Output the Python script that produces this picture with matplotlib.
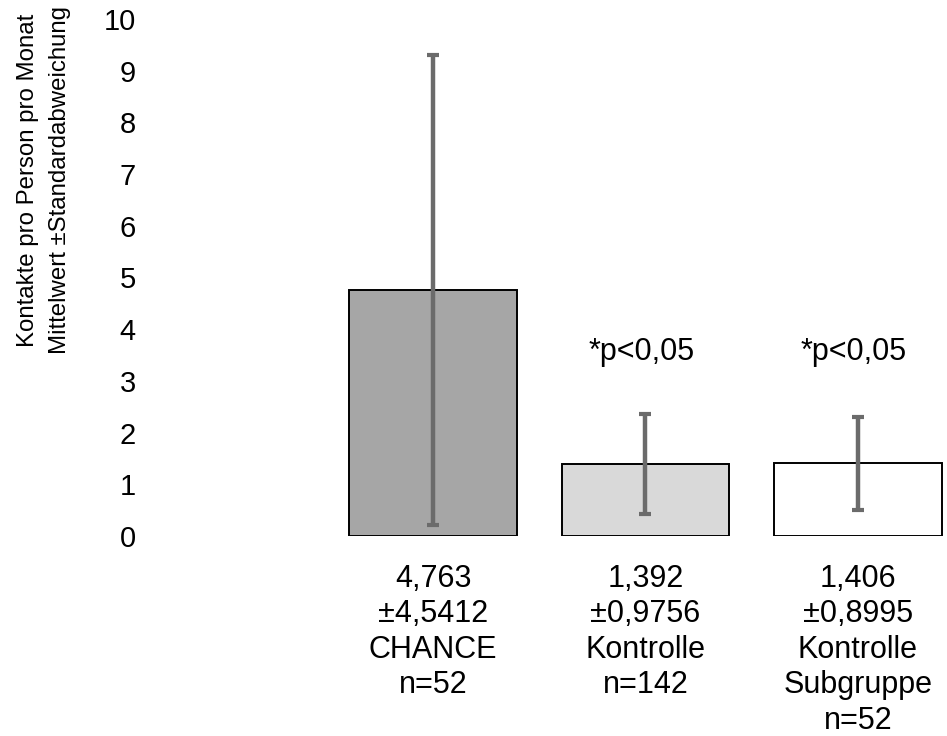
import matplotlib
matplotlib.use("Agg")
import matplotlib.pyplot as plt

plt.rcParams['font.family'] = ['Liberation Sans', 'DejaVu Sans']

groups = ["CHANCE", "Kontrolle", "Kontrolle\nSubgruppe"]
means = [4.763, 1.392, 1.406]
sds = [4.5412, 0.9756, 0.8995]
ns = [52, 142, 52]
fill_colors = ["#a6a6a6", "#d9d9d9", "#ffffff"]
sig_labels = ["", "*p<0,05", "*p<0,05"]
sig_y = 3.55
yticks = list(range(0, 11))

W, H = 947, 736
fig = plt.figure(figsize=(W / 100, H / 100), dpi=100)
ax_left, ax_right = 140, 947
ax_bottom, ax_top = 536, 19
ax = fig.add_axes([ax_left / W, 1 - ax_bottom / H, (ax_right - ax_left) / W, (ax_bottom - ax_top) / H])

x = list(range(len(groups)))
ax.bar(x, means, width=0.79, color=fill_colors, edgecolor="black", linewidth=1.4, zorder=2)
ax.errorbar(x, means, yerr=sds, fmt="none", ecolor="#6b6b6b", elinewidth=3.2,
            capsize=4.5, capthick=3, zorder=3)

for xi, s in zip(x, sig_labels):
    if s:
        ax.text(xi - 0.02, sig_y, s, ha="center", va="center", fontsize=22, color="black")

labels = []
for m, s, g, n in zip(means, sds, groups, ns):
    labels.append(f"{m:.3f}".replace(".", ",") + "\n±" + f"{s:.4f}".replace(".", ",") + "\n" + g + f"\nn={n}")
ax.set_xticks(x)
ax.set_xticklabels(labels, fontsize=22, linespacing=1.24)
ax.tick_params(axis="x", length=0, pad=20)

ax.set_yticks(yticks)
ax.set_yticklabels([str(t) for t in yticks], fontsize=21)
ax.tick_params(axis="y", length=0, pad=3)

ax.set_xlim(-1.379, 2.419)
ax.set_ylim(0, 10)
for sp in ax.spines.values():
    sp.set_visible(False)

fig.text(44 / W, 1 - 180 / H, "Kontakte pro Person pro Monat\nMittelwert ±Standardabweichung",
         rotation=90, ha="center", va="center", fontsize=17.3, linespacing=1.55)

fig.savefig("out.png", dpi=100)
